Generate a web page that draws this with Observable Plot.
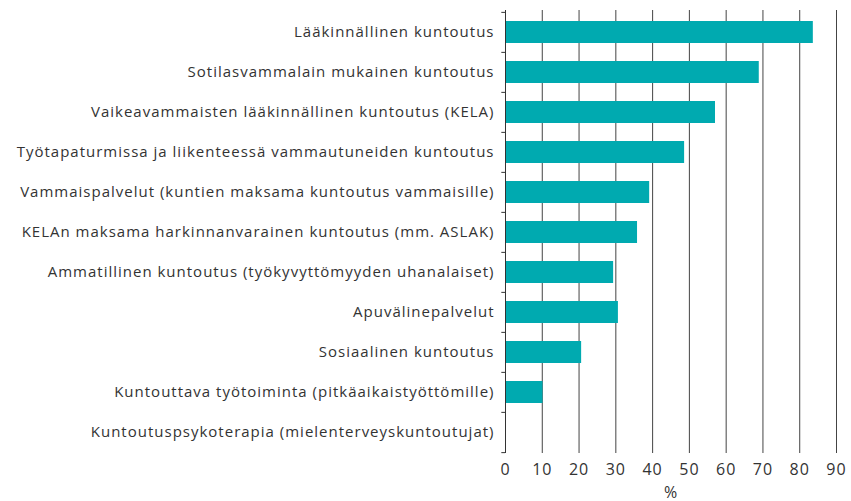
<!DOCTYPE html>
<html>
<head>
<meta charset="utf-8">
<script src="https://cdn.jsdelivr.net/npm/d3@7"></script>
<script src="https://cdn.jsdelivr.net/npm/@observablehq/plot@0.6"></script>
<style>
  html, body { margin: 0; padding: 0; background: #fff; }
  #chart { width: 851px; height: 501px; }
</style>
</head>
<body>
<div id="chart"></div>
<script>
const categories = [
  "Lääkinnällinen kuntoutus",
  "Sotilasvammalain mukainen kuntoutus",
  "Vaikeavammaisten lääkinnällinen kuntoutus (KELA)",
  "Työtapaturmissa ja liikenteessä vammautuneiden kuntoutus",
  "Vammaispalvelut (kuntien maksama kuntoutus vammaisille)",
  "KELAn maksama harkinnanvarainen kuntoutus (mm. ASLAK)",
  "Ammatillinen kuntoutus (työkyvyttömyyden uhanalaiset)",
  "Apuvälinepalvelut",
  "Sosiaalinen kuntoutus",
  "Kuntouttava työtoiminta (pitkäaikaistyöttömille)",
  "Kuntoutuspsykoterapia (mielenterveyskuntoutujat)"
];
const values = [83.7, 69.0, 57.1, 48.7, 39.2, 35.9, 29.4, 30.7, 20.7, 10.2, 0];
const xTicks = [0, 10, 20, 30, 40, 50, 60, 70, 80, 90];
const gridTicks = [10, 20, 30, 40, 50, 60, 70, 80, 90];

const data = categories.map((c, i) => ({cat: c, value: values[i]}));

const W = 851, H = 501;
const mTop = 10, mBottom = 48, mLeft = 505, mRight = 15;
const step = (H - mTop - mBottom) / categories.length;

const chart = Plot.plot({
  width: W,
  height: H,
  marginTop: mTop,
  marginBottom: mBottom,
  marginLeft: mLeft,
  marginRight: mRight,
  style: {fontFamily: "'Open Sans', sans-serif", color: "#333", background: "#fff", overflow: "visible", letterSpacing: "1px"},
  x: {domain: [0, 90]},
  y: {domain: categories, paddingInner: 0.46, paddingOuter: 0.23},
  marks: [
    Plot.gridX(gridTicks, {stroke: "#444", strokeOpacity: 1, strokeWidth: 1}),
    Plot.barX(data, {x: "value", y: "cat", fill: "#00AAB0"}),
    Plot.ruleX([0], {stroke: "#333", strokeWidth: 1}),
    Plot.ruleY(categories, {y: d => d, x1: -1, x2: 0, dy: -step / 2, stroke: "#333"}),
    Plot.ruleY([categories[categories.length - 1]], {y: d => d, x1: -1, x2: 0, dy: step / 2, stroke: "#333"}),
    Plot.axisY({tickSize: 0, tickPadding: 11, fontSize: 15, label: null, fill: "#333"}),
    Plot.axisX({ticks: xTicks, tickSize: 0, tickPadding: 10, fontSize: 16, label: "%", labelAnchor: "center", labelArrow: "none", labelOffset: 44, fill: "#333"})
  ]
});
document.getElementById("chart").appendChild(chart);
</script>
</body>
</html>
